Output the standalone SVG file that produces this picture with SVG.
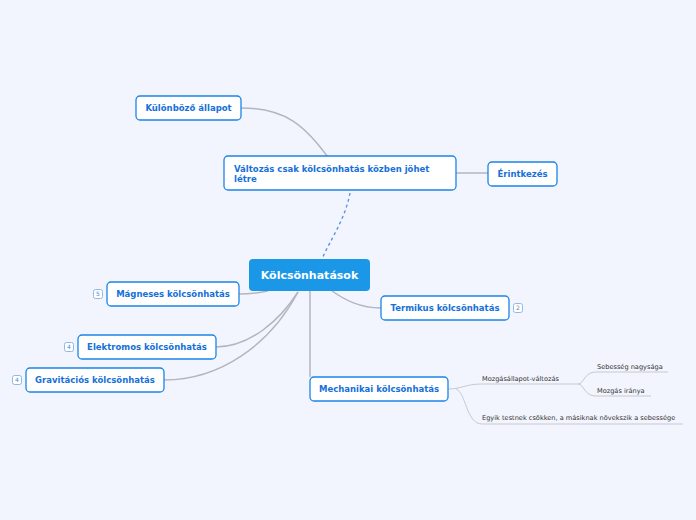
<svg xmlns="http://www.w3.org/2000/svg" width="696" height="520" viewBox="0 0 696 520">
<style>
.bg{fill:#f2f5fd}
.node rect.box{fill:#ffffff;stroke:#1b84e8;stroke-width:1.3}
.t{font-family:"DejaVu Sans",Verdana,sans-serif;font-weight:bold;font-size:8.5px;fill:#1670d8}
.c{font-family:"DejaVu Sans",Verdana,sans-serif;font-weight:bold;font-size:11px;fill:#ffffff}
.s{font-family:"DejaVu Sans",Verdana,sans-serif;font-size:6.6px;fill:#333333}
.badge{fill:#ffffff;stroke:#8fb8ec;stroke-width:1}
.bt{font-family:"DejaVu Sans",Verdana,sans-serif;font-size:6px;fill:#5a87c8;text-anchor:middle}
.ln{fill:none;stroke:#b3b6be;stroke-width:1.5}
.sl{fill:none;stroke:#c6c9d0;stroke-width:1}
.dash{fill:none;stroke:#4f8ee6;stroke-width:1.3;stroke-dasharray:3 3}
</style>
<rect class="bg" x="0" y="0" width="696" height="520"/>
<g id="connectors">
<path class="ln" d="M241 108 C285 108 305 125 330 160"/>
<path class="ln" d="M456 173 L488 173"/>
<path class="dash" d="M350 193 C345 220 330 240 322 259"/>
<path class="ln" d="M268 291 C258 293 248 294 239 294"/>
<path class="ln" d="M298 292 C280 320 250 347 216 347"/>
<path class="ln" d="M298 292 C270 345 220 380 164 380"/>
<path class="ln" d="M332 291 C345 300 360 308 381 308"/>
<path class="ln" d="M310 291 L310 377"/>
<path class="sl" d="M448 389 C462 389 465 384 482 384 L566 384"/>
<path class="sl" d="M456 389 C466 392 466 424 482 424 L683 424"/>
<path class="sl" d="M566 384 L578 384 C584 384 584 372 596 372 L668 372"/>
<path class="sl" d="M578 384 C584 384 584 396 596 396 L651 396"/>
</g>
<g id="central" class="node">
<rect x="249" y="259" width="121" height="32" rx="4" fill="#1b97e8"/>
<text class="c" x="309.5" y="279" text-anchor="middle">Kölcsönhatások</text>
</g>
<g id="kulonbozo" class="node">
<rect class="box" x="136" y="96" width="105" height="24" rx="4"/>
<text class="t" x="188.5" y="111.3" text-anchor="middle">Különböző állapot</text>
</g>
<g id="valtozas" class="node">
<rect class="box" x="224" y="156" width="232" height="34" rx="4"/>
<text class="t" x="234" y="171.5">Változás csak kölcsönhatás közben jöhet</text>
<text class="t" x="234" y="181.5">létre</text>
</g>
<g id="erintkezes" class="node">
<rect class="box" x="488" y="162" width="69" height="24" rx="4"/>
<text class="t" x="522.5" y="177.3" text-anchor="middle">Érintkezés</text>
</g>
<g id="magneses" class="node">
<rect class="box" x="107" y="282" width="132" height="24" rx="4"/>
<text class="t" x="173" y="297.3" text-anchor="middle">Mágneses kölcsönhatás</text>
<rect class="badge" x="93.5" y="289.5" width="9" height="9" rx="2"/>
<text class="bt" x="98" y="296.3">5</text>
</g>
<g id="elektromos" class="node">
<rect class="box" x="78" y="335" width="138" height="24" rx="4"/>
<text class="t" x="147" y="350.3" text-anchor="middle">Elektromos kölcsönhatás</text>
<rect class="badge" x="64.5" y="342.5" width="9" height="9" rx="2"/>
<text class="bt" x="69" y="349.3">4</text>
</g>
<g id="gravitacios" class="node">
<rect class="box" x="26" y="368" width="138" height="24" rx="4"/>
<text class="t" x="95" y="383.3" text-anchor="middle">Gravitációs kölcsönhatás</text>
<rect class="badge" x="12.5" y="375.5" width="9" height="9" rx="2"/>
<text class="bt" x="17" y="382.3">4</text>
</g>
<g id="termikus" class="node">
<rect class="box" x="381" y="296" width="128" height="24" rx="4"/>
<text class="t" x="445" y="311.3" text-anchor="middle">Termikus kölcsönhatás</text>
<rect class="badge" x="513.5" y="303.5" width="9" height="9" rx="2"/>
<text class="bt" x="518" y="310.3">2</text>
</g>
<g id="mechanikai" class="node">
<rect class="box" x="310" y="377" width="138" height="24" rx="4"/>
<text class="t" x="379" y="392.3" text-anchor="middle">Mechanikai kölcsönhatás</text>
</g>
<g id="mozgasallapot">
<text class="s" x="482" y="380.5">Mozgásállapot-változás</text>
</g>
<g id="sebesseg">
<text class="s" x="597" y="368.5">Sebesség nagysága</text>
</g>
<g id="irany">
<text class="s" x="597" y="392.5">Mozgás iránya</text>
</g>
<g id="egyik">
<text class="s" x="482" y="420">Egyik testnek csökken, a másiknak növekszik a sebessége</text>
</g>
</svg>
